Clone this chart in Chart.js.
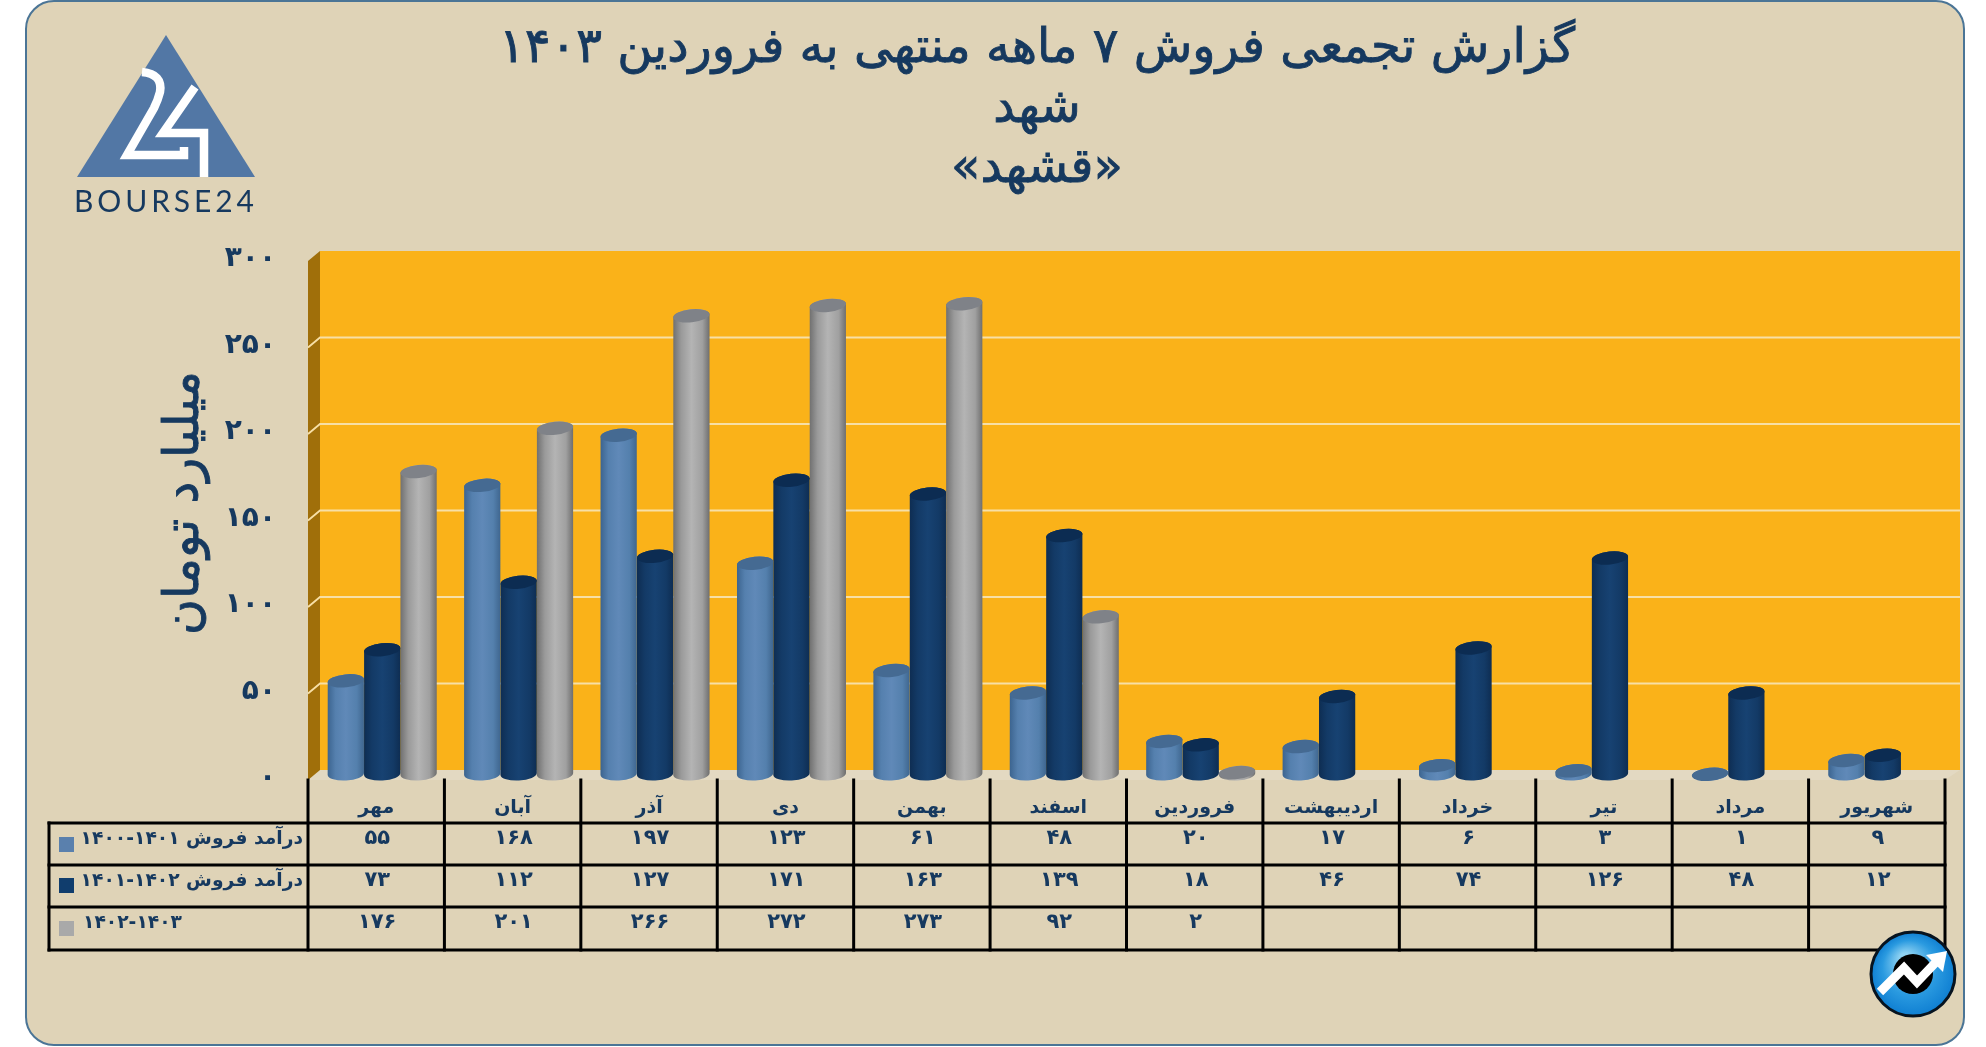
<!DOCTYPE html>
<html lang="fa">
<head>
<meta charset="utf-8">
<title>Bourse24</title>
<script src="https://cdn.jsdelivr.net/npm/chart.js@4"></script>
<style>
html, body { margin: 0; padding: 0; background: #fff; }
canvas { display: block; }
</style>
</head>
<body>
<canvas id="myChart" width="1986" height="1047"></canvas>
<script>
const categories = ['مهر', 'آبان', 'آذر', 'دی', 'بهمن', 'اسفند', 'فروردین', 'اردیبهشت', 'خرداد', 'تیر', 'مرداد', 'شهریور'];
const sales1400 = [55, 168, 197, 123, 61, 48, 20, 17, 6, 3, 1, 9];
const sales1401 = [73, 112, 127, 171, 163, 139, 18, 46, 74, 126, 48, 12];
const sales1402 = [176, 201, 266, 272, 273, 92, 2, null, null, null, null, null];
// U+2066/U+2069 keep the year range reading left to right inside the rtl text
const seriesNames = ['درآمد فروش \u2066۱۴۰۰-۱۴۰۱\u2069', 'درآمد فروش \u2066۱۴۰۱-۱۴۰۲\u2069', '۱۴۰۲-۱۴۰۳'];
const titleLines = ['گزارش تجمعی فروش ۷ ماهه منتهی به فروردین ۱۴۰۳', 'شهد', '«قشهد»'];
const yAxisTitle = 'میلیارد تومان';

const NAVY = '#16395f';
const FONT = '"DejaVu Sans"';
const swatches = ['#5a80ad', '#103d6d', '#a9a9a9'];
const cylinders = [
    { side: ['#3c648f', '#5580ae', '#6089b8', '#5480ad', '#3f668f'], top: '#456a92' },
    { side: ['#0e2d52', '#133a66', '#174272', '#133a66', '#0e2d52'], top: '#0c2c52' },
    { side: ['#707070', '#9a9a9a', '#b4b4b4', '#a0a0a0', '#6e6e6e'], top: '#7f8288' }
];

function toFa(n) {
    return String(n).replace(/\d/g, d => '۰۱۲۳۴۵۶۷۸۹'[d]);
}

function drawWalls(chart) {
    const ctx = chart.ctx, y = chart.scales.y;
    const a = chart.chartArea;
    ctx.save();
    // floor
    ctx.fillStyle = '#e3d9c2';
    ctx.beginPath();
    ctx.moveTo(a.left, a.bottom);
    ctx.lineTo(a.left + 12, a.bottom - 10);
    ctx.lineTo(1960, a.bottom - 10);
    ctx.lineTo(a.right, a.bottom);
    ctx.closePath();
    ctx.fill();
    // back wall
    ctx.fillStyle = '#fab219';
    ctx.fillRect(a.left + 12, a.top - 10, 1960 - a.left - 12, a.bottom - a.top);
    // side wall
    ctx.fillStyle = '#a06f0a';
    ctx.beginPath();
    ctx.moveTo(a.left, a.top);
    ctx.lineTo(a.left + 12, a.top - 10);
    ctx.lineTo(a.left + 12, a.bottom - 10);
    ctx.lineTo(a.left, a.bottom);
    ctx.closePath();
    ctx.fill();
    // grid lines come from the value axis
    ctx.strokeStyle = '#f7dfa6';
    ctx.lineWidth = 1.8;
    y.ticks.forEach(t => {
        if (t.value === 0 || t.value === 300) return;
        const py = y.getPixelForValue(t.value);
        ctx.beginPath();
        ctx.moveTo(a.left, py);
        ctx.lineTo(a.left + 12, py - 10);
        ctx.lineTo(1960, py - 10);
        ctx.stroke();
    });
    ctx.restore();
}

function drawCylinder(ctx, el, style) {
    const cx = el.x + 6, rx = el.width / 2, ry = 6.5;
    const top = el.y - 4, bottom = el.base - 6;
    const rot = -0.1;
    const g = ctx.createLinearGradient(cx - rx, 0, cx + rx, 0);
    [0, 0.22, 0.5, 0.8, 1].forEach((s, i) => g.addColorStop(s, style.side[i]));
    ctx.fillStyle = g;
    ctx.beginPath();
    ctx.ellipse(cx, bottom, rx, ry, rot / 2, 0, Math.PI);
    ctx.ellipse(cx, top, rx, ry, rot, Math.PI, Math.PI * 2);
    ctx.closePath();
    ctx.fill();
    ctx.fillStyle = style.top;
    ctx.beginPath();
    ctx.ellipse(cx, top, rx, ry, rot, 0, Math.PI * 2);
    ctx.fill();
}

function drawTable(chart) {
    const ctx = chart.ctx, x = chart.scales.x;
    const rows = [823, 865, 907, 950];
    const textY = [839, 881, 923];
    const step = (x.right - x.left) / categories.length;
    const data = chart.data.datasets.map(d => d.data);
    ctx.save();
    ctx.strokeStyle = '#000';
    ctx.lineWidth = 3;
    ctx.lineCap = 'square';
    rows.forEach(r => {
        ctx.beginPath();
        ctx.moveTo(49, r);
        ctx.lineTo(x.right, r);
        ctx.stroke();
    });
    ctx.beginPath();
    ctx.moveTo(49, rows[0]);
    ctx.lineTo(49, rows[3]);
    for (let i = 0; i <= categories.length; i++) {
        ctx.moveTo(x.left + i * step, chart.chartArea.bottom);
        ctx.lineTo(x.left + i * step, rows[3]);
    }
    ctx.stroke();

    ctx.direction = 'rtl';
    ctx.textBaseline = 'middle';
    data.forEach((series, r) => {
        ctx.font = 'bold 21px ' + FONT;
        ctx.textAlign = 'center';
        ctx.fillStyle = NAVY;
        series.forEach((v, i) => {
            if (v === null) return;
            ctx.fillText(toFa(v), x.getPixelForTick(i) + 1, textY[r]);
        });
        ctx.font = 'bold 18.7px ' + FONT;
        if (r === 2) {
            ctx.textAlign = 'left';
            ctx.fillText(seriesNames[r], 83, textY[r]);
        } else {
            ctx.textAlign = 'right';
            ctx.fillText(seriesNames[r], 303, textY[r]);
        }
        ctx.fillStyle = swatches[r];
        ctx.fillRect(59, [837, 878, 921][r], 15, 15);
    });
    ctx.restore();
}

function drawLogo(ctx) {
    ctx.save();
    ctx.fillStyle = '#5277a5';
    ctx.beginPath();
    ctx.moveTo(166, 35);
    ctx.lineTo(255, 177);
    ctx.lineTo(77, 177);
    ctx.closePath();
    ctx.fill();
    ctx.strokeStyle = '#fff';
    ctx.lineWidth = 8.5;
    ctx.lineJoin = 'miter';
    ctx.beginPath();
    ctx.moveTo(142, 72);
    ctx.quadraticCurveTo(163, 74, 160, 92);
    ctx.quadraticCurveTo(158, 100, 154, 108);
    ctx.lineTo(127, 155);
    ctx.lineTo(184, 155);
    ctx.lineTo(184, 147);
    ctx.stroke();
    ctx.beginPath();
    ctx.moveTo(195, 87);
    ctx.lineTo(163, 133);
    ctx.lineTo(204, 133);
    ctx.lineTo(204, 177);
    ctx.stroke();
    ctx.fillStyle = NAVY;
    ctx.font = '30px Lato';
    ctx.letterSpacing = '3.9px';
    ctx.textAlign = 'left';
    ctx.textBaseline = 'alphabetic';
    ctx.fillText('BOURSE24', 74, 212);
    ctx.restore();
}

function drawBadge(ctx) {
    const cx = 1913, cy = 974;
    ctx.save();
    const g = ctx.createRadialGradient(cx - 8, cy - 16, 5, cx, cy, 42);
    g.addColorStop(0, '#8fd2f2');
    g.addColorStop(0.6, '#2a9ae0');
    g.addColorStop(1, '#0f7fd2');
    ctx.fillStyle = g;
    ctx.strokeStyle = '#07131f';
    ctx.lineWidth = 3;
    ctx.beginPath();
    ctx.arc(cx, cy, 42, 0, Math.PI * 2);
    ctx.fill();
    ctx.stroke();
    ctx.fillStyle = '#000';
    ctx.beginPath();
    ctx.arc(cx, cy, 20, 0, Math.PI * 2);
    ctx.fill();
    ctx.strokeStyle = '#fff';
    ctx.lineWidth = 9;
    ctx.lineJoin = 'miter';
    ctx.beginPath();
    ctx.moveTo(1880, 992);
    ctx.lineTo(1904, 968);
    ctx.lineTo(1917, 982);
    ctx.lineTo(1938, 960);
    ctx.stroke();
    ctx.fillStyle = '#fff';
    ctx.beginPath();
    ctx.moveTo(1947, 951);
    ctx.lineTo(1943, 972);
    ctx.lineTo(1926, 955);
    ctx.closePath();
    ctx.fill();
    ctx.restore();
}

const bursePlugin = {
    id: 'bourse',
    beforeDraw(chart) {
        const ctx = chart.ctx;
        ctx.save();
        ctx.fillStyle = '#fff';
        ctx.fillRect(0, 0, chart.width, chart.height);
        ctx.beginPath();
        ctx.roundRect(26, 1, 1938, 1044, 28);
        ctx.fillStyle = '#dfd3b7';
        ctx.fill();
        ctx.strokeStyle = '#4b7596';
        ctx.lineWidth = 2;
        ctx.stroke();
        ctx.restore();
    },
    beforeDatasetsDraw(chart) {
        drawWalls(chart);
    },
    beforeDatasetDraw(chart, args) {
        const ds = chart.data.datasets[args.index];
        args.meta.data.forEach((el, i) => {
            if (ds.data[i] !== null) drawCylinder(chart.ctx, el, cylinders[args.index]);
        });
        return false;
    },
    afterDraw(chart) {
        const ctx = chart.ctx;
        drawTable(chart);
        drawLogo(ctx);
        drawBadge(ctx);
        ctx.save();
        ctx.direction = 'rtl';
        ctx.fillStyle = NAVY;
        ctx.strokeStyle = NAVY;
        ctx.lineWidth = 0.9;
        ctx.textAlign = 'center';
        ctx.textBaseline = 'middle';
        ctx.font = '48px ' + FONT;
        titleLines.forEach((line, i) => {
            ctx.fillText(line, 1037, 50 + i * 60);
            ctx.strokeText(line, 1037, 50 + i * 60);
        });
        ctx.translate(185, 503);
        ctx.rotate(-Math.PI / 2);
        ctx.font = '49px ' + FONT;
        ctx.fillText(yAxisTitle, 0, 0);
        ctx.strokeText(yAxisTitle, 0, 0);
        ctx.restore();
    }
};

const ctx = document.getElementById('myChart').getContext('2d');
const myChart = new Chart(ctx, {
    type: 'bar',
    data: {
        labels: categories,
        datasets: [
            { label: seriesNames[0], data: sales1400, backgroundColor: swatches[0] },
            { label: seriesNames[1], data: sales1401, backgroundColor: swatches[1] },
            { label: seriesNames[2], data: sales1402, backgroundColor: swatches[2] }
        ]
    },
    options: {
        responsive: false,
        animation: false,
        layout: { padding: { top: 261, right: 41, bottom: 0, left: 0 } },
        datasets: { bar: { categoryPercentage: 0.8, barPercentage: 1 } },
        plugins: { legend: { display: false }, tooltip: { enabled: false } },
        scales: {
            x: {
                grid: { display: false },
                border: { display: false },
                afterFit: s => { s.height = 267; },
                ticks: {
                    autoSkip: false,
                    maxRotation: 0,
                    padding: 9,
                    color: NAVY,
                    font: { family: 'DejaVu Sans', size: 19, weight: 'bold' }
                }
            },
            y: {
                min: 0,
                max: 300,
                grid: { display: false },
                border: { display: false },
                afterFit: s => { s.width = 308; },
                ticks: {
                    stepSize: 50,
                    padding: 24,
                    labelOffset: -2,
                    color: NAVY,
                    font: { family: 'DejaVu Sans', size: 28, weight: 'bold' },
                    callback: v => toFa(v)
                }
            }
        }
    },
    plugins: [bursePlugin]
});
</script>
</body>
</html>
